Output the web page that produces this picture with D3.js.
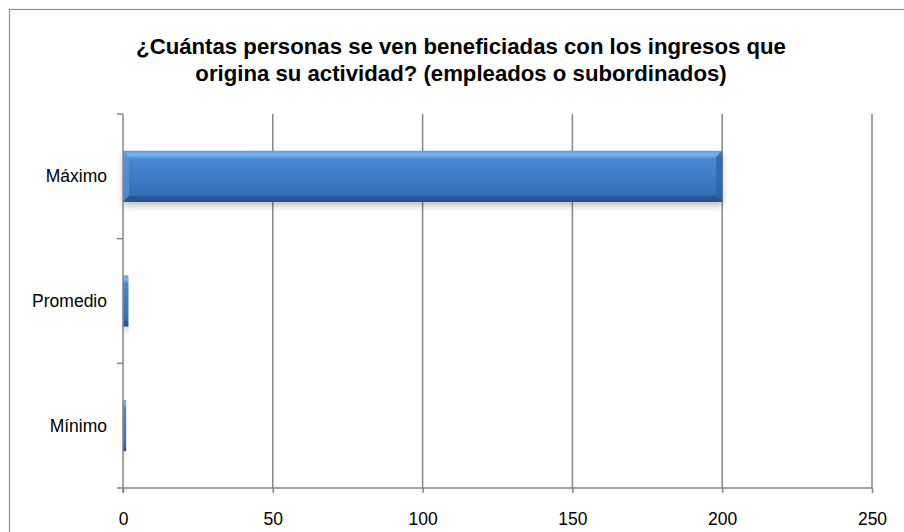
<!DOCTYPE html>
<html><head><meta charset="utf-8">
<script src="https://cdn.jsdelivr.net/npm/d3@7"></script>
<style>body{margin:0;background:#fff}svg{display:block}</style>
</head><body>
<script>
const categories = ["Máximo", "Promedio", "Mínimo"];
const values = [200, 1.8, 1];
const xTicks = [0, 50, 100, 150, 200, 250];
const titleLines = ["¿Cuántas personas se ven beneficiadas con los ingresos que", "origina su actividad? (empleados o subordinados)"];

const W = 904, H = 532;
const FONT = "'Liberation Sans', Arial, Helvetica, sans-serif";
const svg = d3.select("body").append("svg").attr("width", W).attr("height", H);
const defs = svg.append("defs");
const g1 = defs.append("linearGradient").attr("id","barG").attr("x1",0).attr("y1",0).attr("x2",0).attr("y2",1);
[[0,"#5d9be0"],[0.08,"#7fb4ec"],[0.16,"#4a88d2"],[0.5,"#3d7cc8"],[0.85,"#366fb8"],[0.93,"#2a5d9f"],[1,"#1f4a82"]]
  .forEach(([o,c])=>g1.append("stop").attr("offset",o).attr("stop-color",c));
const f = defs.append("filter").attr("id","sh").attr("x","-5%").attr("y","-20%").attr("width","110%").attr("height","160%");
f.append("feGaussianBlur").attr("in","SourceAlpha").attr("stdDeviation",3);
f.append("feOffset").attr("dx",0).attr("dy",4).attr("result","b");
f.append("feComponentTransfer").append("feFuncA").attr("type","linear").attr("slope",0.25);
const fm = f.append("feMerge"); fm.append("feMergeNode"); fm.append("feMergeNode").attr("in","SourceGraphic");

svg.append("rect").attr("x",9.5).attr("y",9.5).attr("width",W+20).attr("height",H+20)
  .attr("fill","#fff").attr("stroke","#8c8c8c").attr("stroke-width",1.2);

const t = svg.append("text").attr("text-anchor","middle").style("font-family",FONT)
  .attr("font-weight","bold").attr("font-size",22.2).attr("fill","#000");
titleLines.forEach((l,i)=>t.append("tspan").attr("x",461).attr("y",54+i*27).text(l));

const m = {l:123, r:872, t:114, b:488};
const x = d3.scaleLinear().domain([0,250]).range([m.l,m.r]);
const y = d3.scaleBand().domain(categories).range([m.t,m.b]).paddingInner(0.59).paddingOuter(0.295);
const yTick = d3.scaleBand().domain(categories).range([m.t,m.b]);

// gridlines
svg.append("g").selectAll("line").data(xTicks.slice(1)).join("line")
  .attr("x1",d=>x(d)).attr("x2",d=>x(d)).attr("y1",m.t).attr("y2",m.b)
  .attr("stroke","#868686").attr("stroke-width",1.5);

// bars
const bars = svg.append("g");
categories.forEach((c,i)=>{
  const x0 = x(0), x1 = x(values[i]), y0 = y(c), h = y.bandwidth();
  const w = x1 - x0;
  const gg = bars.append("g").attr("filter","url(#sh)");
  gg.append("rect").attr("x",x0).attr("y",y0).attr("width",w).attr("height",h).attr("fill","url(#barG)");
  if (w > 20) {
    const b = 6;
    gg.append("path").attr("d",`M${x0},${y0}L${x0+b},${y0+b}L${x0+b},${y0+h-b}L${x0},${y0+h}Z`).attr("fill","#5a94d6").attr("opacity",0.7);
    gg.append("path").attr("d",`M${x1},${y0}L${x1-b},${y0+b}L${x1-b},${y0+h-b}L${x1},${y0+h}Z`).attr("fill","#2d63a6").attr("opacity",0.8);
    gg.append("path").attr("d",`M${x0},${y0+h}L${x0+b},${y0+h-b}L${x1-b},${y0+h-b}L${x1},${y0+h}Z`).attr("fill","#24548f").attr("opacity",0.8);
  }
});

// y axis
const yAxis = svg.append("g");
yAxis.append("line").attr("x1",m.l).attr("x2",m.l).attr("y1",m.t).attr("y2",m.b+5).attr("stroke","#868686").attr("stroke-width",1.5);
const yt = [m.t, ...categories.slice(1).map(c=>yTick(c))];
yAxis.selectAll(".tk").data(yt).join("line").attr("x1",m.l-6).attr("x2",m.l).attr("y1",d=>d).attr("y2",d=>d)
  .attr("stroke","#868686").attr("stroke-width",1.5);
yAxis.selectAll("text").data(categories).join("text")
  .attr("x",107).attr("y",c=>yTick(c)+yTick.bandwidth()/2+6).attr("text-anchor","end")
  .style("font-family",FONT).attr("font-size",17.5).attr("fill","#000").text(c=>c);

// x axis
const xAxis = svg.append("g").attr("transform",`translate(0,${m.b})`)
  .call(d3.axisBottom(x).tickValues(xTicks).tickSize(5).tickPadding(20).tickSizeOuter(0));
xAxis.select(".domain").attr("stroke","#868686").attr("stroke-width",1.5).attr("d",`M${m.l-6},0H${m.r}`);
xAxis.selectAll(".tick line").attr("stroke","#868686").attr("stroke-width",1.5);
xAxis.selectAll("text").style("font-family",FONT).attr("font-size",17.5).attr("fill","#000");
</script>
</body></html>
